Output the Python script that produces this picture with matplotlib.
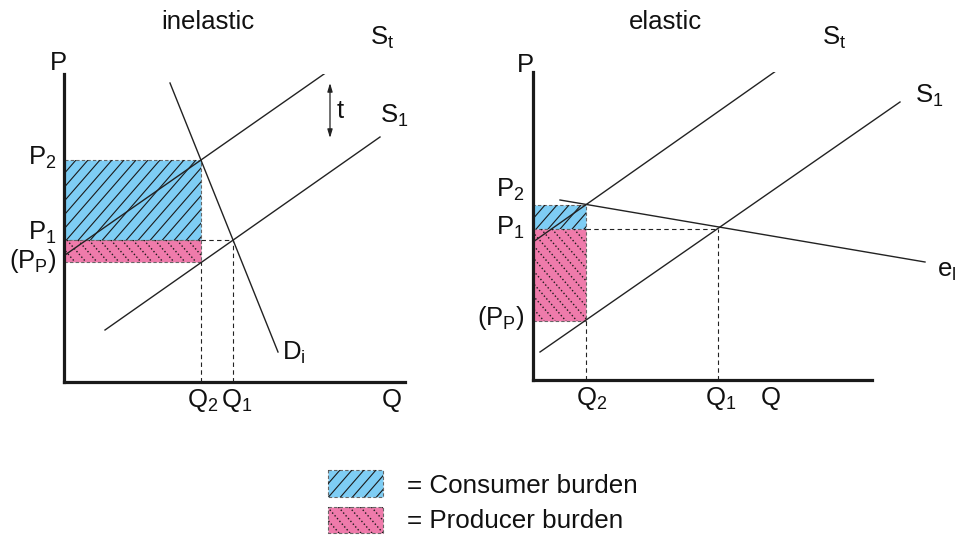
import matplotlib.pyplot as plt
import numpy as np
from matplotlib.patches import Rectangle

plt.rcParams["font.family"] = ["Liberation Sans", "DejaVu Sans"]
plt.rcParams["mathtext.default"] = "regular"

# colours
BLUE = "#7ecdf4"
PINK = "#ef7bab"
INK = "#222222"

# --- inelastic demand panel (units: origin at the axis corner) ---
in_p2, in_p1, in_pp = 222, 142, 120
in_q2, in_q1 = 137, 169
in_st_x, in_st_y = [1, 303], [127, 338]
in_s1_x, in_s1_y = [41, 316], [52, 245]
in_d_x, in_d_y = [106, 214], [299, 30]
in_tax_x, in_tax_y = 266, [299, 244]

# --- elastic demand panel ---
el_p2, el_p1, el_pp = 175, 151, 59
el_q2, el_q1 = 53, 185
el_st_x, el_st_y = [0, 277], [138, 333]
el_s1_x, el_s1_y = [7, 367], [28, 278]
el_d_x, el_d_y = [27, 392], [180, 118]

legend_labels = ["= Consumer burden", "= Producer burden"]

W, H = 958, 535
fig = plt.figure(figsize=(W / 100, H / 100), dpi=100)


def make_axes(x0, y0, w, h):
    """axes whose data units are screen pixels, origin at (x0, y0) from top-left"""
    ax = fig.add_axes([x0 / W, (H - y0) / H, w / W, h / H])
    ax.set_xlim(0, w)
    ax.set_ylim(0, h)
    ax.patch.set_alpha(0)
    for s in ["top", "right"]:
        ax.spines[s].set_visible(False)
    for s in ["left", "bottom"]:
        ax.spines[s].set_linewidth(2.3)
        ax.spines[s].set_color("#1a1a1a")
        ax.spines[s].set_zorder(6)
    ax.set_xticks([])
    ax.set_yticks([])
    return ax


def hatch_rect(ax, x, y, w, h, color, direction, ls, spacing, lw):
    rect = Rectangle((x, y), w, h, facecolor=color, edgecolor="#666666",
                     linestyle=(0, (3, 2)), linewidth=0.8, zorder=1)
    ax.add_patch(rect)
    k = 1.15
    for c in np.arange(x - h / k - spacing, x + w + spacing, spacing):
        if direction == "/":
            xs, ys = [c, c + h / k], [y, y + h]
        else:
            xs, ys = [c, c + h / k], [y + h, y]
        (ln,) = ax.plot(xs, ys, color="#1a1a1a", lw=lw, ls=ls, zorder=2)
        ln.set_clip_path(rect)
    return rect


dash = (0, (4, 3))
fs = 18.5

# ---------------- inelastic ----------------
ax1 = make_axes(64, 382, 341, 308)
hatch_rect(ax1, 0, in_p1, in_q2, in_p2 - in_p1, BLUE, "/", "-", 12, 0.8)
hatch_rect(ax1, 0, in_pp, in_q2, in_p1 - in_pp, PINK, "\\", ":", 11, 1.0)
ax1.plot([in_q2, in_q2], [0, in_pp], color=INK, lw=0.8, ls=dash)
ax1.plot([in_q2, in_q1], [in_p1, in_p1], color=INK, lw=0.8, ls=dash)
ax1.plot([in_q1, in_q1], [0, in_p1], color=INK, lw=0.8, ls=dash)
ax1.plot(in_st_x, in_st_y, color=INK, lw=1.0, zorder=3)
ax1.plot(in_s1_x, in_s1_y, color=INK, lw=1.0, zorder=3)
ax1.plot(in_d_x, in_d_y, color=INK, lw=1.0, zorder=3)
ax1.annotate("", xy=(in_tax_x, in_tax_y[1]), xytext=(in_tax_x, in_tax_y[0]),
             arrowprops=dict(arrowstyle="<|-|>,head_length=0.5,head_width=0.15",
                             color=INK, lw=0.9, shrinkA=0, shrinkB=0))

txt = dict(fontsize=fs, color="#111111", clip_on=False)
ax1.text(-6, 312, "P", ha="center", va="baseline", **txt)
ax1.text(-7, 217, "P$_2$", ha="right", va="baseline", **txt)
ax1.text(-7, 142, "P$_1$", ha="right", va="baseline", **txt)
ax1.text(-7, 114, "(P$_P$)", ha="right", va="baseline", **txt)
ax1.text(in_q2 + 2, -25, "Q$_2$", ha="center", va="baseline", **txt)
ax1.text(in_q1 + 4, -25, "Q$_1$", ha="center", va="baseline", **txt)
ax1.text(328, -25, "Q", ha="center", va="baseline", **txt)
ax1.text(306, 337, "S$_t$", ha="left", va="baseline", **txt)
ax1.text(316, 259, "S$_1$", ha="left", va="baseline", **txt)
ax1.text(273, 264, "t", ha="left", va="baseline", **txt)
ax1.text(218, 22, "D$_i$", ha="left", va="baseline", **txt)

# ---------------- elastic ----------------
ax2 = make_axes(533, 380, 339, 308)
hatch_rect(ax2, 0, el_p1, el_q2, el_p2 - el_p1, BLUE, "/", "-", 12, 0.8)
hatch_rect(ax2, 0, el_pp, el_q2, el_p1 - el_pp, PINK, "\\", ":", 11, 1.0)
ax2.plot([el_q2, el_q2], [0, el_pp], color=INK, lw=0.8, ls=dash)
ax2.plot([el_q2, el_q1], [el_p1, el_p1], color=INK, lw=0.8, ls=dash)
ax2.plot([el_q1, el_q1], [0, el_p1], color=INK, lw=0.8, ls=dash)
ax2.plot(el_st_x, el_st_y, color=INK, lw=1.0, zorder=3)
ax2.plot(el_s1_x, el_s1_y, color=INK, lw=1.0, zorder=3, clip_on=False)
ax2.plot(el_d_x, el_d_y, color=INK, lw=1.0, zorder=3, clip_on=False)

ax2.text(-8, 308, "P", ha="center", va="baseline", **txt)
ax2.text(-8, 183, "P$_2$", ha="right", va="baseline", **txt)
ax2.text(-8, 145, "P$_1$", ha="right", va="baseline", **txt)
ax2.text(-8, 55, "(P$_P$)", ha="right", va="baseline", **txt)
ax2.text(el_q2 + 6, -25, "Q$_2$", ha="center", va="baseline", **txt)
ax2.text(el_q1 + 3, -25, "Q$_1$", ha="center", va="baseline", **txt)
ax2.text(238, -25, "Q", ha="center", va="baseline", **txt)
ax2.text(289, 335, "S$_t$", ha="left", va="baseline", **txt)
ax2.text(382, 277, "S$_1$", ha="left", va="baseline", **txt)
ax2.text(404, 103, "e$_l$", ha="left", va="baseline", **txt)

# ---------------- titles + legend (pixel overlay) ----------------
ov = fig.add_axes([0, 0, 1, 1])
ov.set_xlim(0, W)
ov.set_ylim(H, 0)
ov.axis("off")
ov.patch.set_alpha(0)
ov.text(208, 29, "inelastic", ha="center", va="baseline", fontsize=fs, color="#111111")
ov.text(665, 29, "elastic", ha="center", va="baseline", fontsize=fs, color="#111111")

hatch_rect(ov, 328, 470, 55, 27, BLUE, "\\", "-", 12, 0.8)
hatch_rect(ov, 328, 507, 55, 26, PINK, "/", ":", 11, 1.0)
ov.text(407, 493, legend_labels[0], ha="left", va="baseline", fontsize=18.7, color="#111111")
ov.text(407, 528, legend_labels[1], ha="left", va="baseline", fontsize=18.7, color="#111111")

fig.savefig("out.png", dpi=100)
